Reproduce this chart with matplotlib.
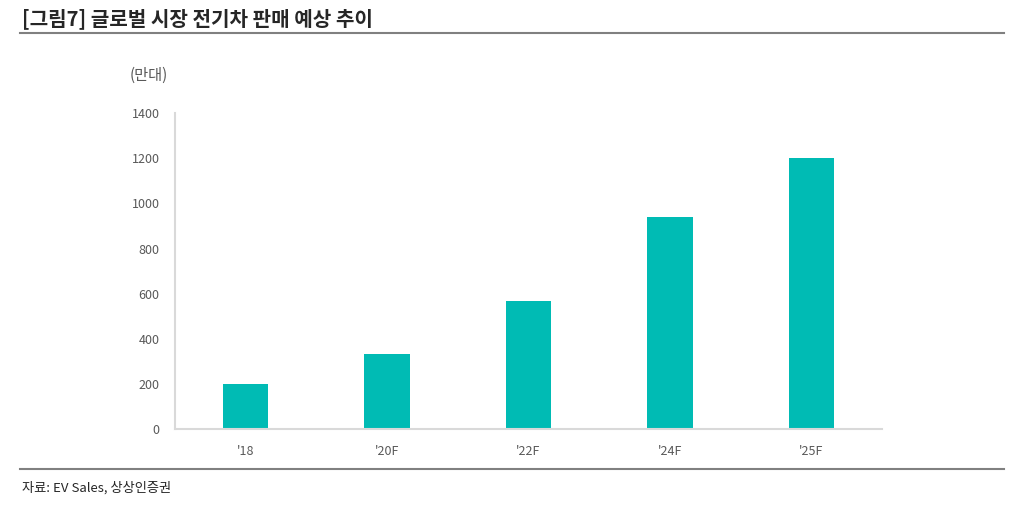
import matplotlib.pyplot as plt
from matplotlib.lines import Line2D

plt.rcParams['font.family'] = ['Noto Sans CJK KR', 'DejaVu Sans']

# 데이터
연도 = ["'18", "'20F", "'22F", "'24F", "'25F"]
판매량 = [200, 335, 570, 940, 1200]
y눈금 = [0, 200, 400, 600, 800, 1000, 1200, 1400]

fig = plt.figure(figsize=(10.24, 5.09), dpi=100)
ax = fig.add_axes([0.1709, 0.1562, 0.6904, 0.6218])

x = range(len(연도))
ax.bar(x, 판매량, width=0.32, color='#00bbb4')
ax.set_xlim(-0.5, 4.5)
ax.set_ylim(0, 1400)
ax.set_xticks(list(x))
ax.set_xticklabels(연도)
ax.set_yticks(y눈금)

for s in ['top', 'right']:
    ax.spines[s].set_visible(False)
for s in ['left', 'bottom']:
    ax.spines[s].set_color('#d9d9d9')
    ax.spines[s].set_linewidth(1.5)
ax.tick_params(length=0, labelsize=9, colors='#595959')
ax.tick_params(axis='y', pad=11)
ax.tick_params(axis='x', pad=11)

# 제목, 단위, 출처
fig.text(0.021, 0.964, "[그림7] 글로벌 시장 전기차 판매 예상 추이", fontsize=14.5,
         fontweight='bold', color='#262626', va='center', ha='left')
fig.text(0.145, 0.852, "(만대)", fontsize=11, color='#595959', ha='center', va='center')
fig.text(0.021, 0.041, "자료: EV Sales, 상상인증권", fontsize=9.5, color='#262626',
         ha='left', va='center')

fig.add_artist(Line2D([0.02, 0.98], [0.935, 0.935], transform=fig.transFigure,
                      color='#808080', linewidth=1.5))
fig.add_artist(Line2D([0.02, 0.98], [0.079, 0.079], transform=fig.transFigure,
                      color='#808080', linewidth=1.5))

fig.savefig("out.png", dpi=100)
